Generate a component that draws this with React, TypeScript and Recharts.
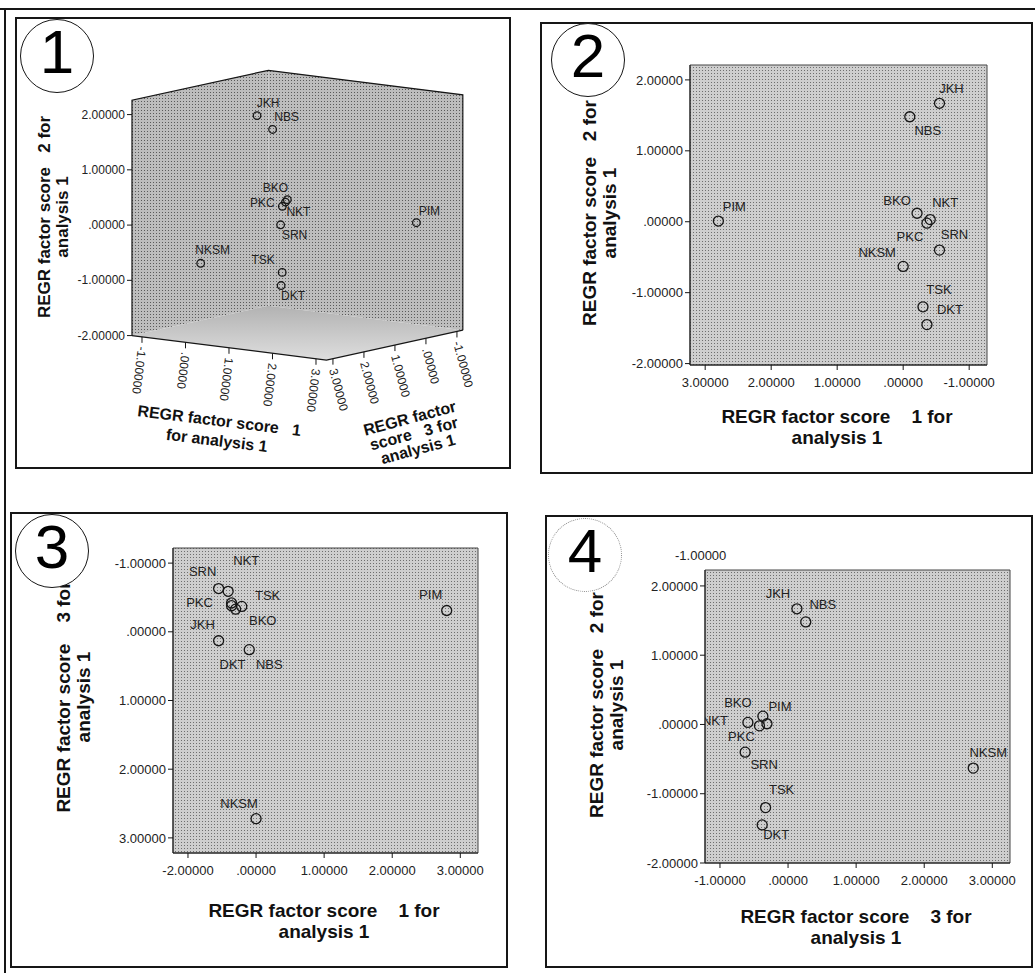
import React from 'react'
import { ScatterChart, Scatter, XAxis, YAxis, ReferenceArea } from 'recharts'

// REGR factor scores (analysis 1) per site
const sites = ['JKH', 'NBS', 'PIM', 'NKSM', 'SRN', 'TSK', 'DKT', 'BKO', 'NKT', 'PKC']
const score1 = [-0.55, -0.1, 2.8, 0.0, -0.55, -0.3, -0.36, -0.21, -0.41, -0.36]
const score2 = [1.67, 1.48, 0.01, -0.63, -0.4, -1.2, -1.45, 0.12, 0.03, -0.02]
const score3 = [0.13, 0.26, -0.31, 2.72, -0.63, -0.33, -0.38, -0.37, -0.59, -0.42]

// axis ticks and the text printed at them
const score2Ticks = [-2, -1, 0, 1, 2]
const score2TickLabels = ['-2.00000', '-1.00000', '.00000', '1.00000', '2.00000']
const scoreTicks = [-1, 0, 1, 2, 3]
const scoreTickLabels = ['-1.00000', '.00000', '1.00000', '2.00000', '3.00000']
const panel3XTickLabels = ['-2.00000', '.00000', '1.00000', '2.00000', '3.00000'] // as printed in the source

const title1 = ['REGR factor score    1 for', 'analysis 1']
const title2 = ['REGR factor score   2 for', 'analysis 1']
const title3 = ['REGR factor score    3 for', 'analysis 1']

const rows = sites.map((name, i) => ({ name, s1: score1[i], s2: score2[i], s3: score3[i] }))

const FONT = '"Liberation Sans", Arial, Helvetica, sans-serif'
const INK = '#161616'

// label offsets (px from the circle) per panel, mimicking SPSS placement
const place1: Record<string, number[]> = {
  JKH: [11, -13], NBS: [14, -12], PIM: [13, -12], NKSM: [12, -13], SRN: [14, 10],
  TSK: [-19, -12], DKT: [12, 10], BKO: [-12, -12], NKT: [13, 10], PKC: [-20, -3],
}
const place2: Record<string, number[]> = {
  JKH: [12, -15], NBS: [18, 14], PIM: [16, -15], BKO: [-20, -13], NKT: [15, -17],
  PKC: [-17, 13], SRN: [15, -16], NKSM: [-26, -14], TSK: [16, -17], DKT: [23, -15],
}
const place3: Record<string, number[]> = {
  SRN: [-16, -17], NKT: [18, -31], PKC: [-32, 0], TSK: [32, -14], BKO: [21, 14],
  DKT: [1, 59], JKH: [-16, -16], NBS: [20, 15], NKSM: [-17, -15], PIM: [-16, -16],
}
const place4: Record<string, number[]> = {
  JKH: [-19, -15], NBS: [17, -17], BKO: [-25, -14], PIM: [13, -17], NKT: [-33, -2],
  PKC: [-18, 11], SRN: [19, 12], TSK: [16, -18], DKT: [14, 10], NKSM: [15, -16],
}

type Box = { x: number; y: number; w: number; h: number }

const siteMark = (place: Record<string, number[]>, r: number, size: number) => (props: any) => {
  const { cx, cy, payload } = props
  const [dx, dy] = place[payload.name] || [12, -12]
  return (
    <g>
      <circle cx={cx} cy={cy} r={r} fill="none" stroke={INK} strokeWidth={1.3} />
      <text x={cx + dx} y={cy + dy} textAnchor="middle" dominantBaseline="central"
        fontSize={size} fontFamily={FONT} fill="#222">{payload.name}</text>
    </g>
  )
}

function Title({ lines, cx, cy, angle = 0, size = 19, lh = 21 }: any) {
  return (
    <div style={{
      position: 'absolute', left: cx, top: cy, transform: `translate(-50%, -50%) rotate(${angle}deg)`,
      whiteSpace: 'pre', textAlign: 'center', fontWeight: 700, fontSize: size, lineHeight: `${lh}px`,
      fontFamily: FONT, color: '#111',
    }}>{lines.join('\n')}</div>
  )
}

function Badge({ n, cx, cy, dotted = false }: any) {
  return (
    <div style={{
      position: 'absolute', left: cx - 37, top: cy - 37, width: 74, height: 74, borderRadius: '50%',
      border: dotted ? '1px dotted #8a8a8a' : `1.3px solid ${INK}`, background: '#fff', boxSizing: 'border-box',
      display: 'flex', alignItems: 'center', justifyContent: 'center',
      fontFamily: FONT, fontSize: 62, lineHeight: 1, color: '#000', paddingBottom: 8,
    }}>{n}</div>
  )
}

function Frame({ box, children }: { box: Box; children?: React.ReactNode }) {
  return (
    <>
      <div style={{ position: 'absolute', left: box.x, top: box.y, width: box.w, height: box.h, overflow: 'hidden' }}>
        {children}
      </div>
      <div style={{
        position: 'absolute', left: box.x, top: box.y, width: box.w, height: box.h,
        border: `2px solid ${INK}`, boxSizing: 'border-box', pointerEvents: 'none',
      }} />
    </>
  )
}

// ---------- 2-D panels ----------
const YW = 70
const XH = 30

function FlatPanel(p: any) {
  const { box, plot, xKey, yKey, xDomain, yDomain, xReversed, yReversed, xTicks, xLabels, yTicks, yLabels, place } = p
  const margin = {
    left: plot.x0 - box.x - YW,
    top: plot.y0 - box.y,
    right: box.x + box.w - plot.x1,
    bottom: box.y + box.h - plot.y1 - XH,
  }
  const tickStyle = { fill: '#222', fontSize: 13, fontFamily: FONT }
  return (
    <div style={{ position: 'absolute', left: 0, top: 0 }}>
      <ScatterChart width={box.w} height={box.h} margin={margin}>
        <ReferenceArea x1={xDomain[0]} x2={xDomain[1]} y1={yDomain[0]} y2={yDomain[1]}
          fill="url(#halftone)" fillOpacity={1} stroke="#444" strokeWidth={1} ifOverflow="visible" />
        <XAxis type="number" dataKey={xKey} domain={xDomain} reversed={xReversed} allowDataOverflow
          ticks={xTicks} interval={0} height={XH} tickSize={5} tickMargin={8}
          tickFormatter={(v: number) => xLabels[xTicks.indexOf(v)]}
          tick={tickStyle} axisLine={{ stroke: INK }} tickLine={{ stroke: INK }} />
        <YAxis type="number" dataKey={yKey} domain={yDomain} reversed={yReversed} allowDataOverflow
          ticks={yTicks} interval={0} width={YW} tickSize={5} tickMargin={2}
          tickFormatter={(v: number) => yLabels[yTicks.indexOf(v)]}
          tick={tickStyle} axisLine={{ stroke: INK }} tickLine={{ stroke: INK }} />
        <Scatter data={rows} shape={siteMark(place, 5, 13)} isAnimationActive={false} />
      </ScatterChart>
    </div>
  )
}

// ---------- 3-D panel (oblique view of the cube) ----------
const cube = { s1: [-1.23, 3.24], s2: [-2.0, 2.26], s3: [-1.19, 3.21] }
// screen offset (px) per unit of each score, origin in panel coordinates
const view = { ox: 270, oy: 193, s1: [43.5, 5.48], s3: [-31, 6.8], s2: 55.25 }

const project = (s1: number, s2: number, s3: number) => ({
  px: view.ox + s1 * view.s1[0] + s3 * view.s3[0],
  py: view.oy + s1 * view.s1[1] + s3 * view.s3[1] - s2 * view.s2,
})

const [a1, b1] = cube.s1
const [a2, b2] = cube.s2
const [a3, b3] = cube.s3
const Lb = project(a1, a2, b3), Lt = project(a1, b2, b3)
const Bb = project(a1, a2, a3), Bt = project(a1, b2, a3)
const Rb = project(b1, a2, a3), Rt = project(b1, b2, a3)
const Fb = project(b1, a2, b3)

const wallLeft = [Lb, Lt, Bt, Bb]
const wallRight = [Bb, Bt, Rt, Rb]
const floor = [Lb, Bb, Rb, Fb]
const rimTop = [Lb, Lt, Bt, Rt, Rb]
const rimFront = [Lb, Fb, Rb]

const cubeTicks = [
  ...score2Ticks.map((v, i) => ({ ...project(a1, v, b3), text: score2TickLabels[i], kind: 'y' })),
  ...scoreTicks.map((v, i) => ({ ...project(v, a2, b3), text: scoreTickLabels[i], kind: 's1' })),
  ...scoreTicks.map((v, i) => ({ ...project(b1, a2, v), text: scoreTickLabels[i], kind: 's3' })),
]
const cubeRows = rows.map((r) => ({ ...r, ...project(r.s1, r.s2, r.s3) }))

const pathOf = (pts: { x: number; y: number }[], close: boolean) =>
  'M' + pts.map((q) => `${q.x},${q.y}`).join('L') + (close ? 'Z' : '')

const fillPoly = (fill: string) => (lp: any) => <path d={pathOf(lp.points, true)} fill={fill} stroke="none" />
const strokePoly = (lp: any) => <path d={pathOf(lp.points, false)} fill="none" stroke={INK} strokeWidth={1.2} />
const noMark = () => <g />

const cubeTick = (props: any) => {
  const { cx, cy, payload } = props
  const txt = { fontSize: 12, fontFamily: FONT, fill: '#222' }
  if (payload.kind === 'y') {
    return (
      <g>
        <line x1={cx - 5} y1={cy} x2={cx} y2={cy} stroke={INK} />
        <text x={cx - 7} y={cy} textAnchor="end" dominantBaseline="central" {...txt}>{payload.text}</text>
      </g>
    )
  }
  const angle = payload.kind === 's1' ? 97 : 75
  return (
    <g>
      <line x1={cx} y1={cy} x2={cx} y2={cy + 6} stroke={INK} />
      <text transform={`translate(${cx},${cy + 10}) rotate(${angle})`} textAnchor="start" dominantBaseline="central" {...txt}>
        {payload.text}
      </text>
    </g>
  )
}

function CubePanel({ box }: { box: Box }) {
  return (
    <div style={{ position: 'absolute', left: 0, top: 0 }}>
      <ScatterChart width={box.w} height={box.h} margin={{ top: 0, right: 0, bottom: 0, left: 0 }}>
        <XAxis type="number" dataKey="px" domain={[0, box.w]} allowDataOverflow hide />
        <YAxis type="number" dataKey="py" domain={[0, box.h]} reversed allowDataOverflow hide />
        <Scatter data={wallLeft} line={fillPoly('url(#halftoneDark)')} shape={noMark} isAnimationActive={false} />
        <Scatter data={wallRight} line={fillPoly('url(#halftoneDark)')} shape={noMark} isAnimationActive={false} />
        <Scatter data={floor} line={fillPoly('url(#floorFade)')} shape={noMark} isAnimationActive={false} />
        <Scatter data={rimTop} line={strokePoly} shape={noMark} isAnimationActive={false} />
        <Scatter data={rimFront} line={strokePoly} shape={noMark} isAnimationActive={false} />
        <Scatter data={cubeTicks} shape={cubeTick} isAnimationActive={false} />
        <Scatter data={cubeRows} shape={siteMark(place1, 3.8, 12)} isAnimationActive={false} />
      </ScatterChart>
    </div>
  )
}

const BOX1 = { x: 15, y: 17, w: 496, h: 452 }
const BOX2 = { x: 540, y: 22, w: 493, h: 452 }
const BOX3 = { x: 10, y: 512, w: 498, h: 456 }
const BOX4 = { x: 545, y: 515, w: 488, h: 453 }

// page coords -> panel coords
const rel = (box: Box, x: number, y: number) => ({ cx: x - box.x, cy: y - box.y })

export default function App() {
  return (
    <div style={{ position: 'absolute', left: 0, top: 0, width: 1035, height: 973, background: '#fff', overflow: 'hidden' }}>
      <svg width={0} height={0} style={{ position: 'absolute' }}>
        <defs>
          <pattern id="halftone" width={3} height={3} patternUnits="userSpaceOnUse">
            <rect width={3} height={3} fill="#cecece" />
            <rect width={1} height={1} fill="#6e6e6e" />
          </pattern>
          <pattern id="halftoneDark" width={3} height={3} patternUnits="userSpaceOnUse">
            <rect width={3} height={3} fill="#bdbdbd" />
            <rect width={1} height={1} fill="#5a5a5a" />
          </pattern>
          <linearGradient id="floorFade" x1="0" y1="0" x2="0" y2="1">
            <stop offset="0%" stopColor="#b2b2b2" />
            <stop offset="100%" stopColor="#dedede" />
          </linearGradient>
        </defs>
      </svg>

      <div style={{ position: 'absolute', left: 0, top: 8, width: 1035, height: 2, background: INK }} />
      <div style={{ position: 'absolute', left: 4, top: 8, width: 2, height: 965, background: INK }} />

      <Frame box={BOX1}>
        <CubePanel box={BOX1} />
        <Title lines={title2} {...rel(BOX1, 54, 217)} angle={-90} size={17} lh={18} />
        <Title lines={['REGR factor score   1', 'for analysis 1']} {...rel(BOX1, 218, 431)} angle={7} size={16} lh={20} />
        <Title lines={['REGR factor', 'score   3 for', 'analysis 1']} {...rel(BOX1, 414, 434)} angle={-15} size={16} lh={16} />
      </Frame>
      <Badge n="1" cx={57} cy={56} />

      <Frame box={BOX2}>
        <FlatPanel box={BOX2} plot={{ x0: 690, y0: 65, x1: 987, y1: 365 }} xKey="s1" yKey="s2"
          xDomain={[-1.27, 3.23]} yDomain={[-2.02, 2.21]} xReversed
          xTicks={[...scoreTicks].reverse()} xLabels={[...scoreTickLabels].reverse()}
          yTicks={score2Ticks} yLabels={score2TickLabels} place={place2} />
        <Title lines={title1} {...rel(BOX2, 837, 427)} />
        <Title lines={title2} {...rel(BOX2, 600, 213)} angle={-90} lh={20} />
      </Frame>
      <Badge n="2" cx={588} cy={60} />

      <Frame box={BOX3}>
        <FlatPanel box={BOX3} plot={{ x0: 173, y0: 548, x1: 478, y1: 853 }} xKey="s1" yKey="s3"
          xDomain={[-1.22, 3.26]} yDomain={[-1.22, 3.22]} yReversed
          xTicks={scoreTicks} xLabels={panel3XTickLabels}
          yTicks={scoreTicks} yLabels={scoreTickLabels} place={place3} />
        <Title lines={title1} {...rel(BOX3, 324, 921)} />
        <Title lines={title3} {...rel(BOX3, 74, 697)} angle={-90} lh={20} />
      </Frame>
      <Badge n="3" cx={52} cy={551} />

      <Frame box={BOX4}>
        <FlatPanel box={BOX4} plot={{ x0: 705, y0: 570, x1: 1010, y1: 863 }} xKey="s3" yKey="s2"
          xDomain={[-1.22, 3.26]} yDomain={[-2.0, 2.23]}
          xTicks={scoreTicks} xLabels={scoreTickLabels}
          yTicks={score2Ticks} yLabels={score2TickLabels} place={place4} />
        <div style={{ position: 'absolute', left: 706 - BOX4.x - 31, top: 556 - BOX4.y - 8, fontSize: 13, fontFamily: FONT, color: '#222' }}>
          -1.00000
        </div>
        <Title lines={title3} {...rel(BOX4, 856, 927)} />
        <Title lines={title2} {...rel(BOX4, 607, 705)} angle={-90} lh={20} />
      </Frame>
      <Badge n="4" cx={585} cy={555} dotted />
    </div>
  )
}
